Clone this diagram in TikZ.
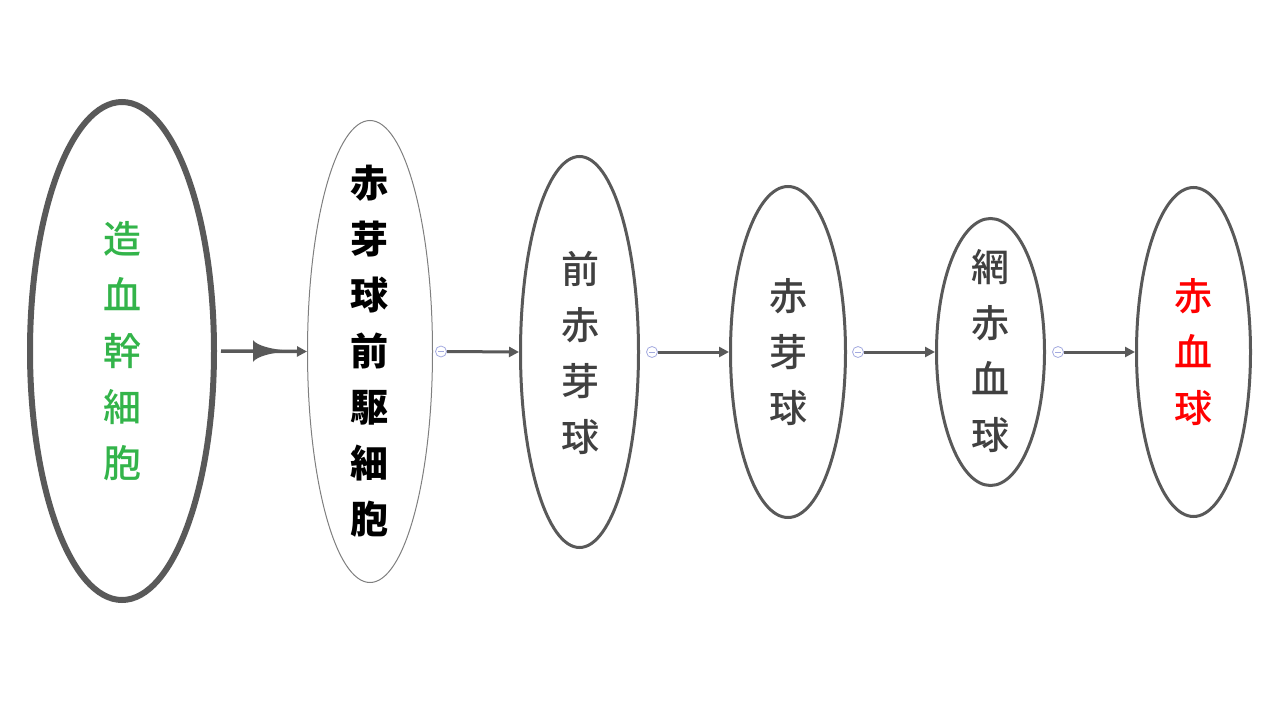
\documentclass[tikz,border=0pt]{standalone}
\usepackage{fontspec}
\newfontfamily\cjk{Noto Sans CJK JP}
\newfontfamily\cjkm{Noto Sans CJK JP Medium}
\usetikzlibrary{shapes.geometric,arrows.meta,calc}
\definecolor{edge}{HTML}{595959}
\definecolor{thin}{HTML}{7F7F7F}
\definecolor{stemgreen}{HTML}{33B44A}
\definecolor{txtgray}{HTML}{404040}
\definecolor{knob}{HTML}{A3AADF}
\tikzset{
  cell/.style={ellipse, draw=edge, line width=3pt, inner sep=0pt},
  vlabel/.style={align=center, inner sep=0pt, font=\cjkm\fontsize{38}{56}\selectfont},
  flow/.style={draw=edge, line width=3pt, -{Triangle[length=10pt,width=10pt]}, shorten >=0pt},
  knobstyle/.style={circle, draw=knob, line width=0.8pt, minimum size=11pt, inner sep=0pt,
    path picture={\draw[knob, line width=0.8pt] ([xshift=-2.8pt]path picture bounding box.center) -- ([xshift=2.8pt]path picture bounding box.center);}}
}
\begin{document}
\begin{tikzpicture}[x=1pt,y=-1pt]
\useasboundingbox (0,0) rectangle (1280,720);
% cells
\node[cell, line width=6pt, minimum width=184, minimum height=498] (e1) at (122,351) {};
\node[cell, draw=thin, line width=1pt, minimum width=125, minimum height=462] (e2) at (370,351.5) {};
\node[cell, minimum width=118, minimum height=391] (e3) at (579.5,352) {};
\node[cell, minimum width=115, minimum height=331] (e4) at (788,352) {};
\node[cell, minimum width=108, minimum height=267] (e5) at (990.5,352) {};
\node[cell, minimum width=114, minimum height=329] (e6) at (1193.5,352) {};
% labels
\node[vlabel, text=stemgreen] (t1) at (122,351) {造\\血\\幹\\細\\胞};
\node[vlabel, text=black, font=\cjk\bfseries\fontsize{38}{56}\selectfont] (t2) at (369,351) {赤\\芽\\球\\前\\駆\\細\\胞};
\node[vlabel, text=txtgray] (t3) at (580,353) {前\\赤\\芽\\球};
\node[vlabel, text=txtgray] (t4) at (788,352) {赤\\芽\\球};
\node[vlabel, text=txtgray] (t5) at (990,351) {網\\赤\\血\\球};
\node[vlabel, text=red] (t6) at (1193,352) {赤\\血\\球};
% first connector with flare
\draw[flow, line width=3.5pt] ([xshift=4]e1.east) -- (e2.west);
\fill[edge] ([xshift=36,yshift=11]e1.east) .. controls +(4,6) and +(-20,-1.2) .. ([xshift=76]e1.east)
  .. controls +(-20,1.2) and +(4,-6) .. ([xshift=36,yshift=-11]e1.east) -- cycle;
% collapse knobs and connectors
\node[knobstyle] (k2) at ([xshift=8]e2.east) {};
\node[knobstyle] (k3) at ([xshift=12]e3.east) {};
\node[knobstyle] (k4) at ([xshift=11]e4.east) {};
\node[knobstyle] (k5) at ([xshift=12]e5.east) {};
\draw[flow] (k2.east) -- (e3.west);
\draw[flow] (k3.east) -- (e4.west);
\draw[flow] (k4.east) -- (e5.west);
\draw[flow] (k5.east) -- (e6.west);
\end{tikzpicture}
\end{document}
